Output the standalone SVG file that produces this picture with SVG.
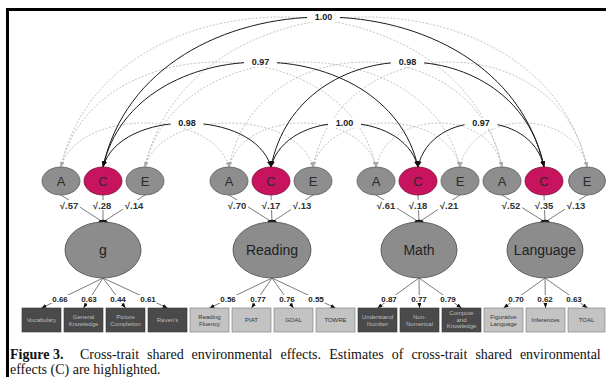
<svg xmlns="http://www.w3.org/2000/svg" width="606" height="377" viewBox="0 0 606 377">
<style>
.frame{fill:none;stroke:#000;stroke-width:3}
.arc{fill:none;stroke:#1a1a1a;stroke-width:1;marker-start:url(#ab);marker-end:url(#ab)}
.darc{fill:none;stroke:#b4b4b4;stroke-width:0.8;stroke-dasharray:2 1.6;marker-start:url(#ag);marker-end:url(#ag)}
.ln{stroke:#5a5a5a;stroke-width:0.8;fill:none}
.lnA{stroke:#5a5a5a;stroke-width:0.8;fill:none;marker-end:url(#ab2)}
.bg{fill:#fff}
.num{font-family:"Liberation Sans",Arial,sans-serif;font-weight:bold;font-size:9px;fill:#222;text-anchor:middle}
.ld{font-family:"Liberation Sans",Arial,sans-serif;font-weight:bold;font-size:8px;fill:#222;text-anchor:middle}
.sq{font-family:"Liberation Sans","DejaVu Sans",sans-serif;font-weight:bold;font-size:9.5px;fill:#333;text-anchor:middle}
.ae{fill:#8e8e8e;stroke:#5a5a5a;stroke-width:0.8}
.c{fill:#c8145f;stroke:#7a0c3a;stroke-width:0.8}
.big{fill:#8c8c8c;stroke:#555;stroke-width:0.9}
.lt{font-family:"Liberation Sans",Arial,sans-serif;font-size:13px;fill:#2a2a2a;text-anchor:middle}
.bt{font-family:"Liberation Sans",Arial,sans-serif;font-size:14px;fill:#222;text-anchor:middle}
.dk{fill:#4a4a4a;stroke:#333;stroke-width:0.6}
.lg{fill:#c3c3c3;stroke:#777;stroke-width:0.6}
.tdk{font-family:"Liberation Sans",Arial,sans-serif;font-size:6px;fill:#bdbdbd;text-anchor:middle}
.tlg{font-family:"Liberation Sans",Arial,sans-serif;font-size:6px;fill:#333;text-anchor:middle}
.dot{fill:#111}
.cap{font-family:"Liberation Serif","Times New Roman",serif;font-size:14px;fill:#111}
</style>
<defs>
<marker id="ab" markerUnits="userSpaceOnUse" markerWidth="6" markerHeight="5" refX="6" refY="2.5" orient="auto-start-reverse"><path d="M0,0 L6,2.5 L0,5 z" fill="#111"/></marker>
<marker id="ab2" markerUnits="userSpaceOnUse" markerWidth="5" markerHeight="4" refX="5" refY="2" orient="auto"><path d="M0,0 L5,2 L0,4 z" fill="#111"/></marker>
<marker id="ag" markerUnits="userSpaceOnUse" markerWidth="5" markerHeight="4" refX="5" refY="2" orient="auto-start-reverse"><path d="M0,0 L5,2 L0,4 z" fill="#aaa"/></marker>
</defs>
<rect width="606" height="377" fill="#fff"/>
<path class="frame" d="M7.5,377 V9.5 H606"/>

<g id="connectors">
  <!-- dashed A-A arcs -->
  <path class="darc" d="M61,167 C77.8,108.3 212.2,108.3 229,167"/>
  <path class="darc" d="M229,167 C243.7,108.3 361.3,108.3 376,167"/>
  <path class="darc" d="M376,167 C388.6,108.3 489.4,108.3 502,167"/>
  <path class="darc" d="M61,167 C92.5,27 344.5,27 376,167"/>
  <path class="darc" d="M229,167 C256.3,27 474.7,27 502,167"/>
  <path class="darc" d="M61,167 C105.1,-33 457.9,-33 502,167"/>
  <!-- dashed E-E arcs -->
  <path class="darc" d="M145,167 C161.8,108.3 296.2,108.3 313,167"/>
  <path class="darc" d="M313,167 C327.7,108.3 445.3,108.3 460,167"/>
  <path class="darc" d="M460,167 C472.7,108.3 574.3,108.3 587,167"/>
  <path class="darc" d="M145,167 C176.5,27 428.5,27 460,167"/>
  <path class="darc" d="M313,167 C340.4,27 559.6,27 587,167"/>
  <path class="darc" d="M145,167 C189.2,-33 542.8,-33 587,167"/>
  <!-- solid C-C arcs -->
  <path class="arc" d="M103,167 C119.8,108.3 254.2,108.3 271,167"/>
  <path class="arc" d="M271,167 C285.7,108.3 403.3,108.3 418,167"/>
  <path class="arc" d="M418,167 C430.6,108.3 531.4,108.3 544,167"/>
  <path class="arc" d="M103,167 C134.5,27 386.5,27 418,167"/>
  <path class="arc" d="M271,167 C298.3,27 516.7,27 544,167"/>
  <path class="arc" d="M103,167 C147.1,-33 499.9,-33 544,167"/>
  <!-- arc labels -->
  <rect class="bg" x="307" y="12" width="33" height="10"/><text class="num" x="323.5" y="20.3">1.00</text>
  <rect class="bg" x="244" y="57" width="33" height="10"/><text class="num" x="260.5" y="65.3">0.97</text>
  <rect class="bg" x="391" y="57" width="33" height="10"/><text class="num" x="407.5" y="65.3">0.98</text>
  <rect class="bg" x="170.5" y="118" width="33" height="10"/><text class="num" x="187" y="126.3">0.98</text>
  <rect class="bg" x="328" y="118" width="33" height="10"/><text class="num" x="344.5" y="126.3">1.00</text>
  <rect class="bg" x="464.5" y="118" width="33" height="10"/><text class="num" x="481" y="126.3">0.97</text>

  <!-- ACE to latent -->
  <path class="ln" d="M61,195 L103,222 M103,195 L103,222 M145,195 L103,222"/>
  <path class="ln" d="M229,195 L272,222 M271,195 L272,222 M313,195 L272,222"/>
  <path class="ln" d="M376,195 L419,222 M418,195 L419,222 M460,195 L419,222"/>
  <path class="ln" d="M502,195 L545,222 M544,195 L545,222 M587,195 L545,222"/>
  <g>
    <rect class="bg" x="58" y="200" width="22" height="10"/><text class="sq" x="69" y="208.5">√.57</text>
    <rect class="bg" x="91" y="200" width="22" height="10"/><text class="sq" x="102" y="208.5">√.28</text>
    <rect class="bg" x="123" y="200" width="22" height="10"/><text class="sq" x="134" y="208.5">√.14</text>
    <rect class="bg" x="226" y="200" width="22" height="10"/><text class="sq" x="237" y="208.5">√.70</text>
    <rect class="bg" x="260" y="200" width="22" height="10"/><text class="sq" x="271" y="208.5">√.17</text>
    <rect class="bg" x="291" y="200" width="22" height="10"/><text class="sq" x="302" y="208.5">√.13</text>
    <rect class="bg" x="375" y="200" width="22" height="10"/><text class="sq" x="386" y="208.5">√.61</text>
    <rect class="bg" x="407" y="200" width="22" height="10"/><text class="sq" x="418" y="208.5">√.18</text>
    <rect class="bg" x="438" y="200" width="22" height="10"/><text class="sq" x="449" y="208.5">√.21</text>
    <rect class="bg" x="500" y="200" width="22" height="10"/><text class="sq" x="511" y="208.5">√.52</text>
    <rect class="bg" x="533" y="200" width="22" height="10"/><text class="sq" x="544" y="208.5">√.35</text>
    <rect class="bg" x="565" y="200" width="22" height="10"/><text class="sq" x="576" y="208.5">√.13</text>
  </g>
  <ellipse class="dot" cx="103" cy="222" rx="4.5" ry="2.3"/>
  <ellipse class="dot" cx="272" cy="222" rx="4.5" ry="2.3"/>
  <ellipse class="dot" cx="419" cy="222" rx="4.5" ry="2.3"/>
  <ellipse class="dot" cx="545" cy="222" rx="4.5" ry="2.3"/>

  <!-- latent to indicators -->
  <path class="lnA" d="M103,278 L41.5,308"/>
  <path class="lnA" d="M103,278 L83.5,308"/>
  <path class="lnA" d="M103,278 L125.5,308"/>
  <path class="lnA" d="M103,278 L167.5,308"/>
  <path class="lnA" d="M272,278 L209.5,308"/>
  <path class="lnA" d="M272,278 L251.5,308"/>
  <path class="lnA" d="M272,278 L293.5,308"/>
  <path class="lnA" d="M272,278 L335.5,308"/>
  <path class="lnA" d="M419,278 L377.5,308"/>
  <path class="lnA" d="M419,278 L419.5,308"/>
  <path class="lnA" d="M419,278 L461.5,308"/>
  <path class="lnA" d="M545,278 L503.5,308"/>
  <path class="lnA" d="M545,278 L545.5,308"/>
  <path class="lnA" d="M545,278 L587.5,308"/>
  <g>
    <rect class="bg" x="51" y="295" width="18" height="8"/><text class="ld" x="60" y="301.8">0.66</text>
    <rect class="bg" x="80" y="295" width="18" height="8"/><text class="ld" x="89" y="301.8">0.63</text>
    <rect class="bg" x="109" y="295" width="18" height="8"/><text class="ld" x="118" y="301.8">0.44</text>
    <rect class="bg" x="139" y="295" width="18" height="8"/><text class="ld" x="148" y="301.8">0.61</text>
    <rect class="bg" x="219" y="295" width="18" height="8"/><text class="ld" x="228" y="301.8">0.56</text>
    <rect class="bg" x="249" y="295" width="18" height="8"/><text class="ld" x="258" y="301.8">0.77</text>
    <rect class="bg" x="278" y="295" width="18" height="8"/><text class="ld" x="287" y="301.8">0.76</text>
    <rect class="bg" x="307" y="295" width="18" height="8"/><text class="ld" x="316" y="301.8">0.55</text>
    <rect class="bg" x="380" y="295" width="18" height="8"/><text class="ld" x="389" y="301.8">0.87</text>
    <rect class="bg" x="410" y="295" width="18" height="8"/><text class="ld" x="419" y="301.8">0.77</text>
    <rect class="bg" x="439" y="295" width="18" height="8"/><text class="ld" x="448" y="301.8">0.79</text>
    <rect class="bg" x="507" y="295" width="18" height="8"/><text class="ld" x="516" y="301.8">0.70</text>
    <rect class="bg" x="536" y="295" width="18" height="8"/><text class="ld" x="545" y="301.8">0.62</text>
    <rect class="bg" x="565" y="295" width="18" height="8"/><text class="ld" x="574" y="301.8">0.63</text>
  </g>
</g>

<!-- g block -->
<g id="g-A"><ellipse class="ae" cx="61" cy="181" rx="19" ry="14"/><text class="lt" x="61" y="185.5">A</text></g>
<g id="g-C"><ellipse class="c" cx="103" cy="181" rx="19" ry="14"/><text class="lt" x="103" y="185.5">C</text></g>
<g id="g-E"><ellipse class="ae" cx="145" cy="181" rx="19" ry="14"/><text class="lt" x="145" y="185.5">E</text></g>
<g id="g-latent"><ellipse class="big" cx="103" cy="250" rx="38" ry="28"/><text class="bt" x="103" y="255">g</text></g>
<!-- Reading block -->
<g id="reading-A"><ellipse class="ae" cx="229" cy="181" rx="19" ry="14"/><text class="lt" x="229" y="185.5">A</text></g>
<g id="reading-C"><ellipse class="c" cx="271" cy="181" rx="19" ry="14"/><text class="lt" x="271" y="185.5">C</text></g>
<g id="reading-E"><ellipse class="ae" cx="313" cy="181" rx="19" ry="14"/><text class="lt" x="313" y="185.5">E</text></g>
<g id="reading-latent"><ellipse class="big" cx="272" cy="250" rx="39" ry="28"/><text class="bt" x="272" y="255">Reading</text></g>
<!-- Math block -->
<g id="math-A"><ellipse class="ae" cx="376" cy="181" rx="19" ry="14"/><text class="lt" x="376" y="185.5">A</text></g>
<g id="math-C"><ellipse class="c" cx="418" cy="181" rx="19" ry="14"/><text class="lt" x="418" y="185.5">C</text></g>
<g id="math-E"><ellipse class="ae" cx="460" cy="181" rx="19" ry="14"/><text class="lt" x="460" y="185.5">E</text></g>
<g id="math-latent"><ellipse class="big" cx="419" cy="250" rx="38" ry="28"/><text class="bt" x="419" y="255">Math</text></g>
<!-- Language block -->
<g id="language-A"><ellipse class="ae" cx="502" cy="181" rx="19" ry="14"/><text class="lt" x="502" y="185.5">A</text></g>
<g id="language-C"><ellipse class="c" cx="544" cy="181" rx="19" ry="14"/><text class="lt" x="544" y="185.5">C</text></g>
<g id="language-E"><ellipse class="ae" cx="587" cy="181" rx="18.5" ry="14"/><text class="lt" x="587" y="185.5">E</text></g>
<g id="language-latent"><ellipse class="big" cx="545" cy="250" rx="38" ry="28"/><text class="bt" x="545" y="255">Language</text></g>

<!-- indicator boxes -->
<g id="box-vocabulary"><rect class="dk" x="22" y="308" width="39" height="24"/><text class="tdk" x="41.5" y="322">Vocabulary</text></g>
<g id="box-general-knowledge"><rect class="dk" x="64" y="308" width="39" height="24"/><text class="tdk" x="83.5" y="318.5">General<tspan x="83.5" dy="7">Knowledge</tspan></text></g>
<g id="box-picture-completion"><rect class="dk" x="106" y="308" width="39" height="24"/><text class="tdk" x="125.5" y="318.5">Picture<tspan x="125.5" dy="7">Completion</tspan></text></g>
<g id="box-ravens"><rect class="dk" x="148" y="308" width="39" height="24"/><text class="tdk" x="167.5" y="322">Raven's</text></g>
<g id="box-reading-fluency"><rect class="lg" x="190" y="308" width="39" height="24"/><text class="tlg" x="209.5" y="318.5">Reading<tspan x="209.5" dy="7">Fluency</tspan></text></g>
<g id="box-piat"><rect class="lg" x="232" y="308" width="39" height="24"/><text class="tlg" x="251.5" y="322">PIAT</text></g>
<g id="box-goal"><rect class="lg" x="274" y="308" width="39" height="24"/><text class="tlg" x="293.5" y="322">GOAL</text></g>
<g id="box-towre"><rect class="lg" x="316" y="308" width="39" height="24"/><text class="tlg" x="335.5" y="322">TOWRE</text></g>
<g id="box-understand-number"><rect class="dk" x="358" y="308" width="39" height="24"/><text class="tdk" x="377.5" y="318.5">Understand<tspan x="377.5" dy="7">Number</tspan></text></g>
<g id="box-non-numerical"><rect class="dk" x="400" y="308" width="39" height="24"/><text class="tdk" x="419.5" y="318.5">Non-<tspan x="419.5" dy="7">Numerical</tspan></text></g>
<g id="box-compute-knowledge"><rect class="dk" x="442" y="308" width="39" height="24"/><text class="tdk" x="461.5" y="315">Compute<tspan x="461.5" dy="6.5">and</tspan><tspan x="461.5" dy="6.5">Knowledge</tspan></text></g>
<g id="box-figurative-language"><rect class="lg" x="484" y="308" width="39" height="24"/><text class="tlg" x="503.5" y="318.5">Figurative<tspan x="503.5" dy="7">Language</tspan></text></g>
<g id="box-inferences"><rect class="lg" x="526" y="308" width="39" height="24"/><text class="tlg" x="545.5" y="322">Inferences</text></g>
<g id="box-toal"><rect class="lg" x="568" y="308" width="37" height="24"/><text class="tlg" x="586.5" y="322">TOAL</text></g>

<!-- caption -->
<g id="caption">
<text class="cap" y="359"><tspan x="10" font-weight="bold">Figure 3.</tspan><tspan x="80">Cross-trait</tspan><tspan x="147.1">shared</tspan><tspan x="191.6">environmental</tspan><tspan x="280.5">effects.</tspan><tspan x="329.3">Estimates</tspan><tspan x="391.7">of</tspan><tspan x="411.4">cross-trait</tspan><tspan x="475.4">shared</tspan><tspan x="519.9">environmental</tspan></text>
<text class="cap" x="10" y="374">effects (C) are highlighted.</text>
</g>
</svg>
